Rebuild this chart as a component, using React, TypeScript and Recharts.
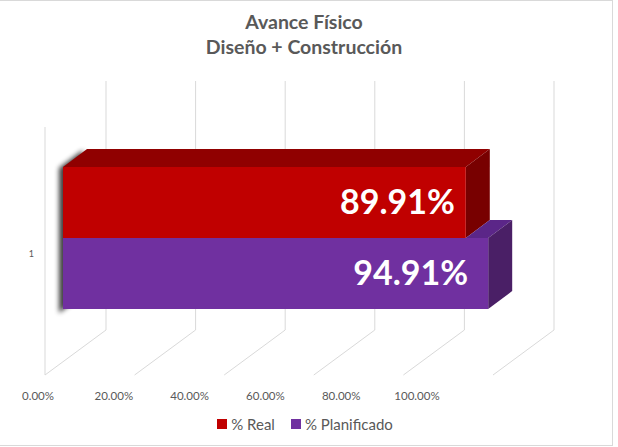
import React from 'react';
import {
  BarChart,
  Bar,
  XAxis,
  YAxis,
  CartesianGrid,
  Legend,
  LabelList,
} from 'recharts';

const categories = ['1'];
const realValues = [0.8991];
const plannedValues = [0.9491];
const xTicks = [0, 0.2, 0.4, 0.6, 0.8, 1];
const seriesOrder = ['% Real', '% Planificado'];

const data = categories.map((name, i) => ({
  name,
  real: realValues[i],
  plan: plannedValues[i],
}));

const FONT = 'Lato, "Open Sans", sans-serif';
const TEXT = '#595959';
const GRID = '#d9d9d9';

// oblique "3D" offsets
const DX = 24;
const DY = 18;
const FLOOR_DX = 18; // floor front edge sits this far left of the bar fronts
const WALL_DX = 43; // back wall sits this far right of the bar fronts

const fmt = (v: number) => `${(v * 100).toFixed(2)}%`;

function make3DBar(front: string, top: string, side: string, first: boolean) {
  return (props: any) => {
    const { x, y, width, height, payload } = props;
    let topStart = x;
    if (!first && payload && payload.real < payload.plan) {
      topStart = x + (width * payload.real) / payload.plan;
    }
    const r = x + width;
    return (
      <g>
        {first && (
          <>
            <defs>
              <filter id="barShadow" x="-50%" y="-50%" width="200%" height="200%">
                <feGaussianBlur stdDeviation="2.5" />
              </filter>
            </defs>
            <polygon
              points={`${x - 4},${y + 1} ${x + DX - 4},${y - DY + 1} ${x + DX - 4},${y + height * 2 - DY + 4} ${x - 4},${y + height * 2 + 4}`}
              fill="#000"
              opacity={0.75}
              filter="url(#barShadow)"
            />
          </>
        )}
        <polygon
          points={`${topStart},${y} ${topStart + DX},${y - DY} ${r + DX},${y - DY} ${r},${y}`}
          fill={top}
        />
        <polygon
          points={`${r},${y} ${r + DX},${y - DY} ${r + DX},${y + height - DY} ${r},${y + height}`}
          fill={side}
        />
        <rect x={x} y={y} width={width} height={height} fill={front} />
      </g>
    );
  };
}

const RealBar = make3DBar('#c00000', '#900000', '#780000', true);
const PlanBar = make3DBar('#7030a0', '#5b2688', '#4a1f66', false);

function makeLabel(inset: number) {
  return (props: any) => {
    const { x, y, width, height, value } = props;
    return (
      <text
        x={x + width - inset}
        y={y + height / 2 + 11}
        textAnchor="end"
        fill="#ffffff"
        fontFamily={FONT}
        fontWeight={700}
        fontSize={34}
      >
        {fmt(value)}
      </text>
    );
  };
}

function GridLine(props: any) {
  const { x1, y1, y2, index } = props;
  const backX = x1 + WALL_DX;
  const backTop = y1 - 51;
  const backBottom = y2 - 13;
  const frontX = x1 - FLOOR_DX;
  const frontY = y2 + 32;
  return (
    <g key={`g-${index}`}>
      <line x1={backX} y1={backTop} x2={backX} y2={backBottom} stroke={GRID} />
      <line x1={backX} y1={backBottom} x2={frontX} y2={frontY} stroke={GRID} />
      {index === 0 && (
        <line x1={frontX} y1={backTop + 46} x2={frontX} y2={frontY} stroke={GRID} />
      )}
    </g>
  );
}

function XTick(props: any) {
  const { x, y, payload } = props;
  const lx = 38 + (x - 63) * 0.846;
  return (
    <text x={lx} y={y + 49} textAnchor="middle" fill={TEXT} fontFamily={FONT} fontSize={11.5}>
      {fmt(payload.value)}
    </text>
  );
}

function YTick(props: any) {
  const { x, y, payload } = props;
  return (
    <text x={x - 21} y={y + 19} textAnchor="end" fill={TEXT} fontFamily={FONT} fontSize={9}>
      {payload.value}
    </text>
  );
}

function LegendContent(props: any) {
  const payload = [...(props.payload || [])].sort(
    (a: any, b: any) => seriesOrder.indexOf(a.value) - seriesOrder.indexOf(b.value)
  );
  return (
    <div
      style={{
        display: 'flex',
        justifyContent: 'center',
        alignItems: 'center',
        height: 20,
        fontFamily: FONT,
        fontSize: 15,
        color: TEXT,
        paddingRight: 2,
      }}
    >
      {payload.map((p: any, i: number) => (
        <span
          key={p.value}
          style={{ display: 'flex', alignItems: 'center', marginRight: i === payload.length - 1 ? 0 : 16 }}
        >
          <span style={{ width: 10, height: 10, background: p.color, marginRight: 4, display: 'inline-block' }} />
          {p.value}
        </span>
      ))}
    </div>
  );
}

export default function App() {
  return (
    <div
      style={{
        position: 'absolute',
        left: 0,
        top: 0,
        width: 613,
        height: 446,
        boxSizing: 'border-box',
        borderTop: `1px solid ${GRID}`,
        borderRight: `1px solid ${GRID}`,
        borderBottom: `1px solid ${GRID}`,
        background: '#fff',
      }}
    >
      <div
        style={{
          position: 'absolute',
          top: 8,
          left: 0,
          width: 608,
          textAlign: 'center',
          fontFamily: FONT,
          fontWeight: 700,
          fontSize: 19.5,
          lineHeight: '25px',
          color: TEXT,
        }}
      >
        Avance Físico
        <br />
        Diseño + Construcción
      </div>
      <div style={{ position: 'absolute', left: 0, top: -1 }}>
        <BarChart
          width={612}
          height={447}
          data={data}
          layout="vertical"
          margin={{ top: 132, right: 101, bottom: 54, left: 23 }}
          barCategoryGap={35}
          barGap={0}
        >
          <CartesianGrid horizontal={false} vertical={GridLine} />
          <XAxis
            type="number"
            domain={[0, 1]}
            ticks={xTicks}
            axisLine={false}
            tickLine={false}
            tick={XTick}
            height={30}
          />
          <YAxis
            type="category"
            dataKey="name"
            axisLine={false}
            tickLine={false}
            tick={YTick}
            width={40}
          />
          <Legend
            content={LegendContent}
            wrapperStyle={{ position: 'absolute', top: 414, left: 0, width: 612, height: 20 }}
          />
          <Bar dataKey="real" name="% Real" fill="#c00000" shape={RealBar} isAnimationActive={false}>
            <LabelList dataKey="real" content={makeLabel(11)} />
          </Bar>
          <Bar dataKey="plan" name="% Planificado" fill="#7030a0" shape={PlanBar} isAnimationActive={false}>
            <LabelList dataKey="plan" content={makeLabel(20)} />
          </Bar>
        </BarChart>
      </div>
    </div>
  );
}
